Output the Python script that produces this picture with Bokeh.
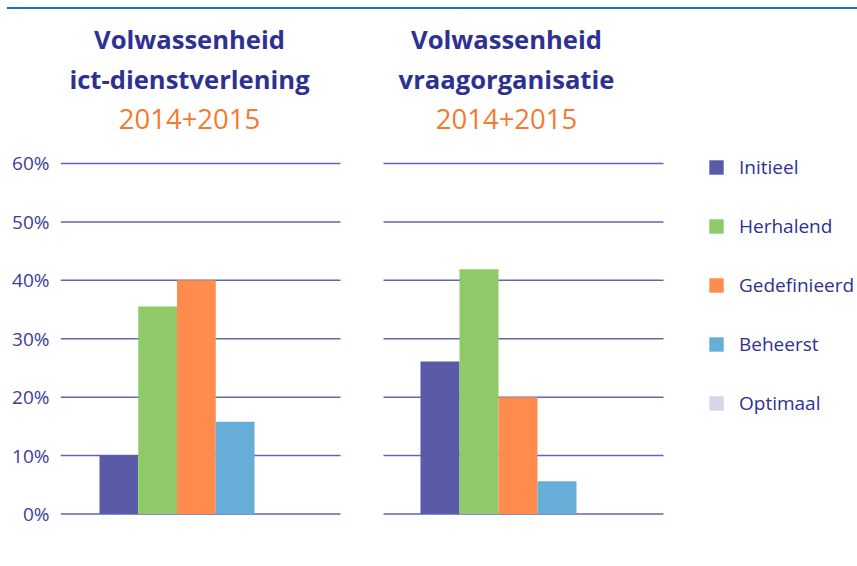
from bokeh.plotting import figure
from bokeh.models import (ColumnDataSource, Range1d, FixedTicker, NumeralTickFormatter,
                          Legend, LegendItem, Div)
from bokeh.layouts import column
from bokeh.core.properties import value
from bokeh.embed import file_html
from bokeh.resources import INLINE

# ---------------- data ----------------
categories = ["Initieel", "Herhalend", "Gedefinieerd", "Beheerst", "Optimaal"]
colors = ["#5a5ba8", "#8fca68", "#ff8c4c", "#66aed8", "#d5d6ea"]
ict_values = [0.100, 0.355, 0.400, 0.158, 0.0]
vraag_values = [0.261, 0.419, 0.200, 0.056, 0.0]
y_ticks = [0.0, 0.1, 0.2, 0.3, 0.4, 0.5, 0.6]
title_ict = ["Volwassenheid", "ict-dienstverlening"]
title_vraag = ["Volwassenheid", "vraagorganisatie"]
period = "2014+2015"

# ---------------- layout (screen pixels) ----------------
FONT = value("Open Sans")
DARK = "#2e3192"
ORANGE = "#f47a30"
GRID = "#6266ae"
FRAME_LEFT, FRAME_RIGHT = 60, 857
FRAME_TOP, FRAME_BOTTOM = 9, 530
ZERO_Y = 513.5
PX = 584.2  # pixels per 100%
TEXT_SHIFT = 9.5


def ydata(sy):
    return (ZERO_Y - sy) / PX


panels = [
    dict(name="ict", values=ict_values, title=title_ict, g0=60, g1=340, bar_left=99, bw=38.75, cx=189),
    dict(name="vraag", values=vraag_values, title=title_vraag, g0=383, g1=663, bar_left=420, bw=39.0, cx=506),
]

p = figure(width=FRAME_RIGHT, height=FRAME_BOTTOM - FRAME_TOP,
           x_range=Range1d(FRAME_LEFT, FRAME_RIGHT),
           y_range=Range1d(ydata(FRAME_BOTTOM), ydata(FRAME_TOP)),
           x_axis_location=None, y_axis_location="left",
           min_border_left=FRAME_LEFT, min_border_right=0, min_border_top=0, min_border_bottom=0,
           output_backend="svg", toolbar_location=None)
p.grid.visible = False
p.outline_line_color = None
p.background_fill_color = "white"
p.border_fill_color = "white"

yax = p.yaxis[0]
yax.ticker = FixedTicker(ticks=y_ticks)
yax.formatter = NumeralTickFormatter(format="0%")
yax.axis_line_color = None
yax.major_tick_line_color = None
yax.minor_tick_line_color = None
yax.major_tick_out = 0
yax.major_tick_in = 0
yax.major_label_standoff = 11
yax.major_label_text_font = "Open Sans"
yax.major_label_text_font_size = "19px"
yax.major_label_text_color = "#3b3d99"

first_renderer = None
for pan in panels:
    bw = pan["bw"]
    start = (FRAME_LEFT - pan["bar_left"]) / bw - 0.5
    end = (FRAME_RIGHT - pan["bar_left"]) / bw - 0.5
    p.extra_x_ranges[pan["name"]] = Range1d(start, end)

    # gridlines
    p.segment(x0=[pan["g0"]] * len(y_ticks), x1=[pan["g1"]] * len(y_ticks),
              y0=y_ticks, y1=y_ticks, line_color=GRID, line_width=1.5)

    src = ColumnDataSource(dict(idx=list(range(len(categories))), cat=categories,
                                val=pan["values"], color=colors))
    r = p.vbar(x="idx", top="val", bottom=0, width=1.0, source=src,
               fill_color="color", line_color=None, x_range_name=pan["name"])
    if first_renderer is None:
        first_renderer = r

    # titles
    p.text(x=[pan["cx"], pan["cx"]], y=[ydata(48 - TEXT_SHIFT), ydata(88 - TEXT_SHIFT)],
           text=pan["title"], text_align="center", text_baseline="alphabetic", text_font=FONT,
           text_font_style="bold", text_font_size="25.6px", text_color=DARK)
    p.text(x=[pan["cx"]], y=[ydata(128 - TEXT_SHIFT)], text=[period],
           text_align="center", text_baseline="alphabetic", text_font=FONT,
           text_font_size="27.5px", text_color=ORANGE)

legend = Legend(
    items=[LegendItem(label=c, renderers=[first_renderer], index=i) for i, c in enumerate(categories)],
    location=(707 - FRAME_LEFT, FRAME_BOTTOM - 416),
    glyph_width=18, glyph_height=18, label_height=18, spacing=33,
    padding=0, margin=0, border_line_color=None, background_fill_alpha=0,
    label_standoff=14, label_text_font="Open Sans", label_text_font_size="19px",
    label_text_color=DARK, label_text_baseline="middle",
)
p.add_layout(legend)

topline = Div(text="", width=FRAME_RIGHT - 7, height=2, margin=(7, 0, 0, 7),
              styles={"background-color": "#1a75bb"})

layout = column(topline, p, spacing=0)

open("out.html", "w").write(file_html(layout, INLINE))
